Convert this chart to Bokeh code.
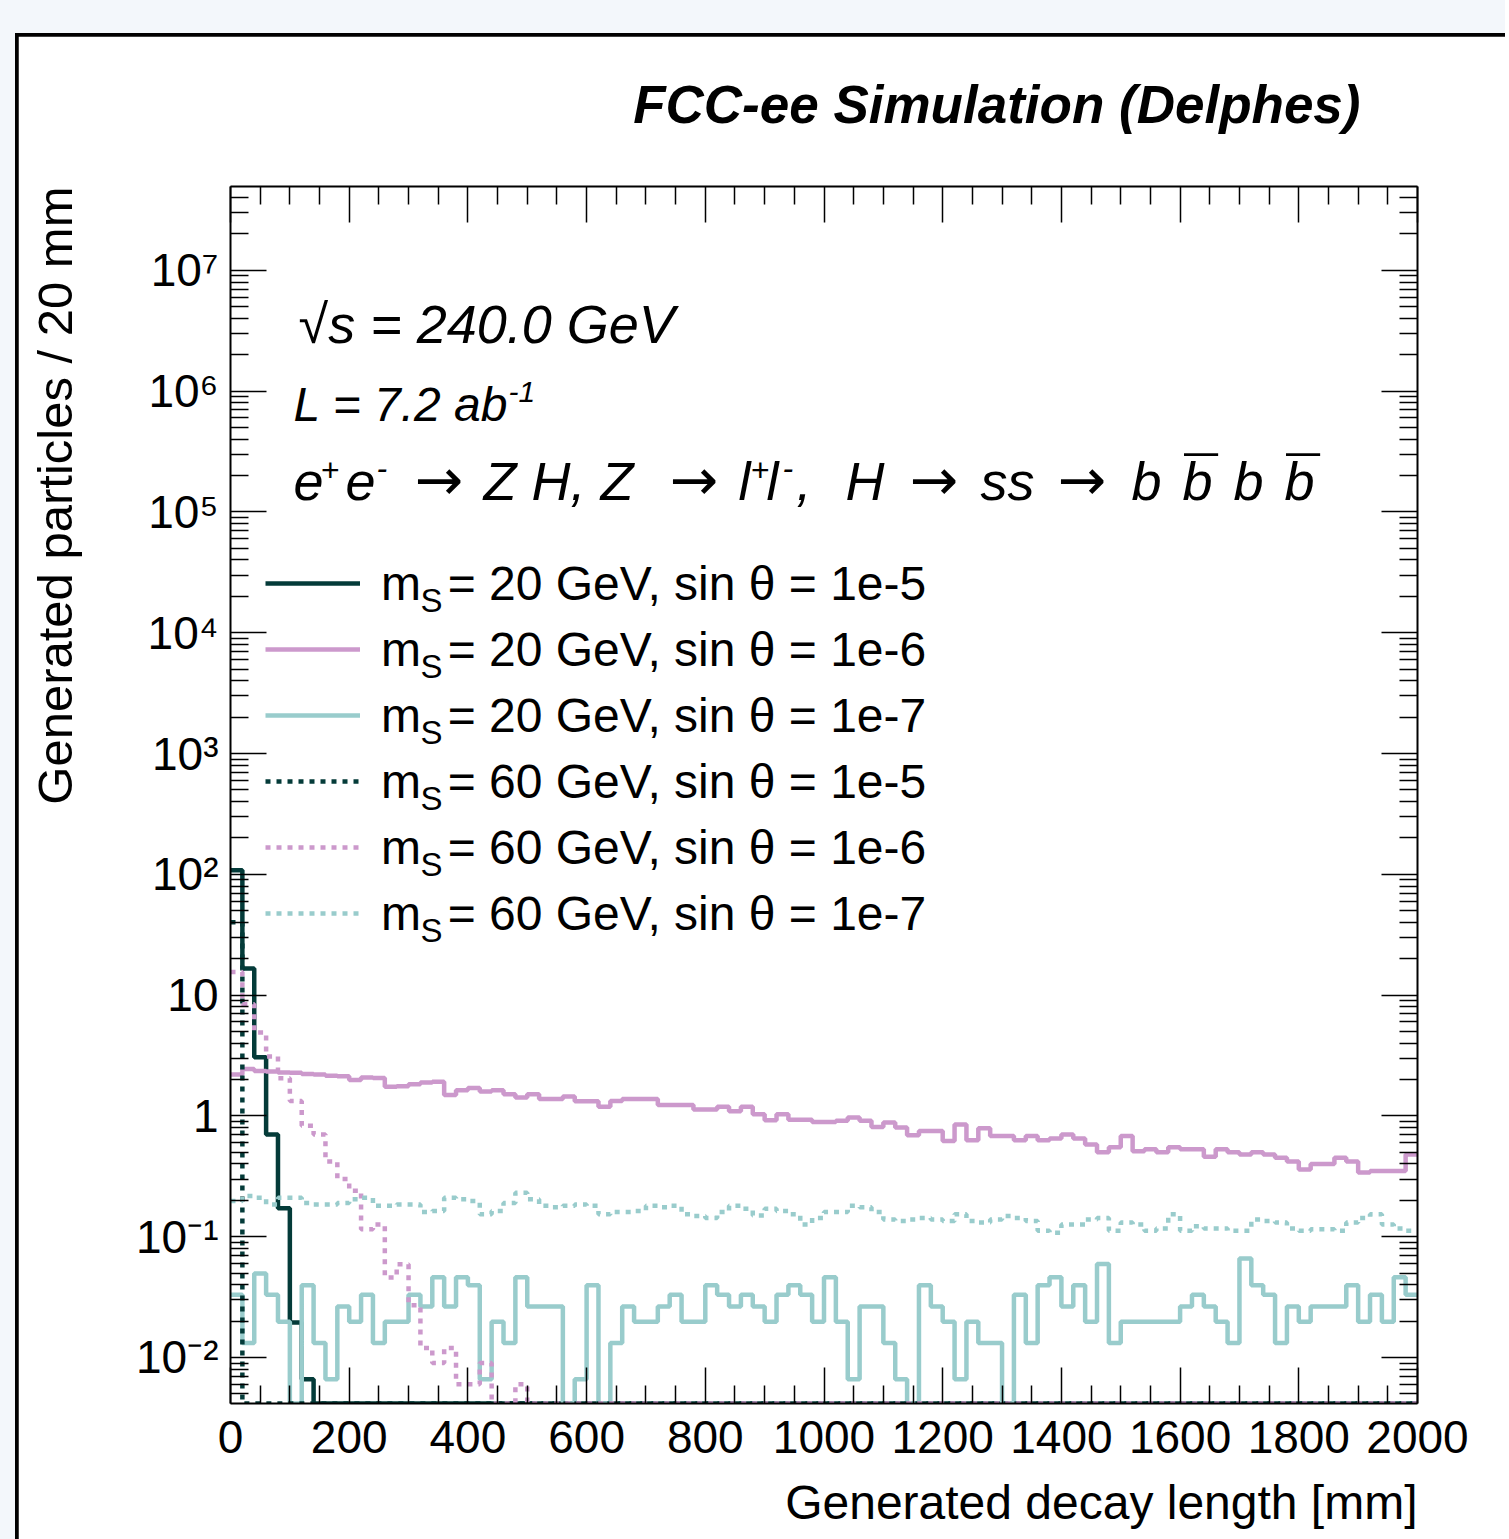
import math
from bokeh.plotting import figure
from bokeh.models import (Label, Legend, LegendItem, LinearAxis, LogAxis, FixedTicker,
                          CustomJSTickFormatter, Range1d, Title)
from bokeh.layouts import column
from bokeh.embed import file_html
from bokeh.resources import INLINE

# ---------------- data ----------------
BIN_WIDTH = 20.0
N_BINS = 100
X_MIN, X_MAX = 0.0, 2000.0
Y_MIN, Y_MAX = 10 ** -2.381, 10 ** 7.694

series_labels = [
    "m\u00a0\u00a0= 20 GeV, sin \u03b8 = 1e-5",
    "m\u00a0\u00a0= 20 GeV, sin \u03b8 = 1e-6",
    "m\u00a0\u00a0= 20 GeV, sin \u03b8 = 1e-7",
    "m\u00a0\u00a0= 60 GeV, sin \u03b8 = 1e-5",
    "m\u00a0\u00a0= 60 GeV, sin \u03b8 = 1e-6",
    "m\u00a0\u00a0= 60 GeV, sin \u03b8 = 1e-7",
]

m20_s5 = [108, 16.6, 3.06, 0.70, 0.172, 0.0195, 0.0066, 0, 0, 0,
          0, 0, 0, 0, 0, 0, 0, 0, 0, 0,
          0, 0, 0, 0, 0, 0, 0, 0, 0, 0,
          0, 0, 0, 0, 0, 0, 0, 0, 0, 0,
          0, 0, 0, 0, 0, 0, 0, 0, 0, 0,
          0, 0, 0, 0, 0, 0, 0, 0, 0, 0,
          0, 0, 0, 0, 0, 0, 0, 0, 0, 0,
          0, 0, 0, 0, 0, 0, 0, 0, 0, 0,
          0, 0, 0, 0, 0, 0, 0, 0, 0, 0,
          0, 0, 0, 0, 0, 0, 0, 0, 0, 0]

m20_s6 = [2.20, 2.45, 2.35, 2.33, 2.29, 2.28, 2.22, 2.20, 2.15, 2.13,
          1.98, 2.08, 2.06, 1.74, 1.76, 1.83, 1.89, 1.92, 1.49, 1.63,
          1.70, 1.59, 1.63, 1.51, 1.42, 1.51, 1.38, 1.38, 1.45, 1.32,
          1.32, 1.19, 1.33, 1.38, 1.38, 1.38, 1.23, 1.23, 1.23, 1.13,
          1.13, 1.19, 1.09, 1.19, 1.03, 0.92, 1.03, 0.93, 0.93, 0.89,
          0.89, 0.91, 0.97, 0.91, 0.81, 0.88, 0.80, 0.69, 0.75, 0.75,
          0.62, 0.85, 0.63, 0.79, 0.68, 0.68, 0.63, 0.68, 0.63, 0.65,
          0.70, 0.65, 0.58, 0.50, 0.55, 0.68, 0.51, 0.53, 0.50, 0.55,
          0.53, 0.53, 0.46, 0.53, 0.50, 0.48, 0.50, 0.48, 0.45, 0.42,
          0.36, 0.40, 0.40, 0.45, 0.42, 0.34, 0.35, 0.35, 0.35, 0.48]

m20_s7 = [0.033, 0.0132, 0.0495, 0.033, 0.0198, 0, 0.0396, 0.0132, 0.0066, 0.0264,
          0.0198, 0.033, 0.0132, 0.0198, 0.0198, 0.033, 0.0264, 0.0462, 0.0264, 0.0462,
          0.0396, 0.0066, 0.0198, 0.0132, 0.0462, 0.0264, 0.0264, 0.0264, 0, 0.0066,
          0.0396, 0, 0.0132, 0.0264, 0.0198, 0.0198, 0.0264, 0.033, 0.0198, 0.0198,
          0.0396, 0.033, 0.0264, 0.033, 0.0264, 0.0198, 0.033, 0.0396, 0.033, 0.0198,
          0.0462, 0.0198, 0.0066, 0.0264, 0.0264, 0.0132, 0.0066, 0, 0.0396, 0.0264,
          0.0198, 0.0066, 0.0198, 0.0132, 0.0132, 0, 0.033, 0.0132, 0.0396, 0.0462,
          0.0264, 0.0396, 0.0198, 0.0594, 0.0132, 0.0198, 0.0198, 0.0198, 0.0198, 0.0198,
          0.0264, 0.033, 0.0264, 0.0198, 0.0132, 0.066, 0.0396, 0.033, 0.0132, 0.0264,
          0.0198, 0.0264, 0.0264, 0.0264, 0.0396, 0.0198, 0.033, 0.0198, 0.0462, 0.033]

m60_s5 = [40, 0, 0, 0, 0, 0, 0, 0, 0, 0,
          0, 0, 0, 0, 0, 0, 0, 0, 0, 0,
          0, 0, 0, 0, 0, 0, 0, 0, 0, 0,
          0, 0, 0, 0, 0, 0, 0, 0, 0, 0,
          0, 0, 0, 0, 0, 0, 0, 0, 0, 0,
          0, 0, 0, 0, 0, 0, 0, 0, 0, 0,
          0, 0, 0, 0, 0, 0, 0, 0, 0, 0,
          0, 0, 0, 0, 0, 0, 0, 0, 0, 0,
          0, 0, 0, 0, 0, 0, 0, 0, 0, 0,
          0, 0, 0, 0, 0, 0, 0, 0, 0, 0]

m60_s6 = [15.5, 8.4, 4.9, 3.1, 2.05, 1.33, 0.83, 0.70, 0.42, 0.30,
          0.24, 0.115, 0.126, 0.046, 0.059, 0.027, 0.012, 0.009, 0.012, 0.006,
          0.006, 0.009, 0, 0, 0.006, 0, 0, 0, 0, 0,
          0, 0, 0, 0, 0, 0, 0, 0, 0, 0,
          0, 0, 0, 0, 0, 0, 0, 0, 0, 0,
          0, 0, 0, 0, 0, 0, 0, 0, 0, 0,
          0, 0, 0, 0, 0, 0, 0, 0, 0, 0,
          0, 0, 0, 0, 0, 0, 0, 0, 0, 0,
          0, 0, 0, 0, 0, 0, 0, 0, 0, 0,
          0, 0, 0, 0, 0, 0, 0, 0, 0, 0]

m60_s7 = [0.197, 0.217, 0.21, 0.185, 0.21, 0.21, 0.19, 0.185, 0.185, 0.19,
          0.204, 0.21, 0.18, 0.18, 0.185, 0.185, 0.16, 0.163, 0.21, 0.204,
          0.197, 0.153, 0.163, 0.19, 0.231, 0.204, 0.18, 0.175, 0.18, 0.185,
          0.18, 0.153, 0.16, 0.16, 0.163, 0.18, 0.175, 0.18, 0.153, 0.148,
          0.143, 0.16, 0.18, 0.17, 0.15, 0.17, 0.163, 0.153, 0.126, 0.143,
          0.16, 0.16, 0.18, 0.175, 0.16, 0.139, 0.135, 0.139, 0.143, 0.139,
          0.135, 0.153, 0.135, 0.131, 0.139, 0.148, 0.143, 0.135, 0.112, 0.108,
          0.126, 0.126, 0.139, 0.143, 0.112, 0.131, 0.126, 0.112, 0.117, 0.153,
          0.112, 0.122, 0.117, 0.117, 0.112, 0.112, 0.139, 0.135, 0.131, 0.117,
          0.112, 0.115, 0.115, 0.112, 0.131, 0.143, 0.153, 0.126, 0.117, 0.112]

x_major_ticks = [0, 200, 400, 600, 800, 1000, 1200, 1400, 1600, 1800, 2000]
y_major_exponents = [-2, -1, 0, 1, 2, 3, 4, 5, 6, 7]

# ---------------- styling ----------------
FONT = "Liberation Sans"
DARK = "#043b39"
PINK = "#cc99cc"
CYAN = "#99cccc"
BG = "#f3f7fb"

FRAME_W, FRAME_H = 1187, 1217
B_LEFT, B_TOP, B_RIGHT, B_BOTTOM = 212, 150, 88, 136
PAD_LEFT, PAD_TOP, BORDER = 15, 33, 3
FRAME_LEFT_PAGE = PAD_LEFT + BORDER + B_LEFT
FRAME_BOTTOM_PAGE = PAD_TOP + BORDER + B_TOP + FRAME_H

p = figure(frame_width=FRAME_W, frame_height=FRAME_H,
           x_range=Range1d(X_MIN, X_MAX), y_range=Range1d(Y_MIN, Y_MAX),
           y_axis_type="log", output_backend="svg", toolbar_location=None,
           min_border_left=B_LEFT, min_border_right=B_RIGHT,
           min_border_top=B_TOP, min_border_bottom=B_BOTTOM,
           background_fill_color="white", border_fill_color="white")
p.xgrid.visible = False
p.ygrid.visible = False
p.outline_line_color = None

# title (outside the frame, so use the plot title)
p.title.text = "FCC-ee Simulation (Delphes)"
p.title.align = "right"
p.title.offset = 57
p.title.standoff = 2
p.title.text_font = FONT
p.title.text_font_size = "53px"
p.title.text_font_style = "bold italic"
p.title.text_color = "black"

x_minor_ticks = [v for v in range(0, 2001, 50) if v % 200 != 0]
y_major_ticks = [10.0 ** e for e in y_major_exponents]
y_minor_ticks = [k * 10.0 ** e for e in range(-3, 8) for k in range(2, 10)
                 if Y_MIN <= k * 10.0 ** e <= Y_MAX]
xt = FixedTicker(ticks=x_major_ticks, minor_ticks=x_minor_ticks)
yt = FixedTicker(ticks=y_major_ticks, minor_ticks=y_minor_ticks)

yfmt = CustomJSTickFormatter(code="""
const e = Math.round(Math.log10(tick));
if (e === 0) return "1";
if (e === 1) return "10";
const sup = {"-": "\u207b", "0": "\u2070", "1": "\u00b9", "2": "\u00b2", "3": "\u00b3",
             "4": "\u2074", "5": "\u2075", "6": "\u2076", "7": "\u2077", "8": "\u2078", "9": "\u2079"};
return "10" + String(e).split("").map(c => sup[c]).join("");
""")


def style_axis(ax, show_labels):
    ax.axis_line_color = "black"
    ax.axis_line_width = 2
    ax.major_tick_in = 36
    ax.major_tick_out = 0
    ax.minor_tick_in = 18
    ax.minor_tick_out = 0
    ax.major_tick_line_color = "black"
    ax.major_tick_line_width = 1.5
    ax.minor_tick_line_color = "black"
    ax.minor_tick_line_width = 1.5
    if show_labels:
        ax.major_label_text_font = FONT
        ax.major_label_text_font_size = "46px"
        ax.major_label_text_color = "black"
    else:
        ax.major_label_text_color = None
        ax.major_label_standoff = 0


def spacer(ax, gap):
    # blank axis label used only to push the outer title panel away from the axis
    ax.axis_label = "\u00a0"
    ax.axis_label_text_font_size = "2px"
    ax.axis_label_standoff = gap


xa = p.xaxis[0]
xa.ticker = xt
style_axis(xa, True)
xa.major_label_standoff = 17
spacer(xa, 12)

ya = p.yaxis[0]
ya.ticker = yt
ya.formatter = yfmt
style_axis(ya, True)
ya.major_label_standoff = 12
spacer(ya, 44)

top_ax = LinearAxis(ticker=xt)
style_axis(top_ax, False)
spacer(top_ax, 47)
p.add_layout(top_ax, "above")
right_ax = LogAxis(ticker=yt)
style_axis(right_ax, False)
p.add_layout(right_ax, "right")

# axis titles, right aligned to the frame end (ROOT style)
p.add_layout(Title(text="Generated decay length [mm]", align="right", offset=0, standoff=2,
                   text_font=FONT, text_font_size="48px", text_font_style="normal",
                   text_color="black"), "below")
p.add_layout(Title(text="Generated particles / 20 mm", align="right", offset=0, standoff=4,
                   text_font=FONT, text_font_size="49px", text_font_style="normal",
                   text_color="black"), "left")

# ---------------- histograms ----------------
edges = [X_MIN + i * BIN_WIDTH for i in range(N_BINS + 1)]


def step_y(vals):
    ys = [max(v, Y_MIN) for v in vals]
    return ys + [ys[-1]]


LW = 4.5
DOT = "5 6"
specs = [
    (m20_s5, DARK, "solid"),
    (m20_s6, PINK, "solid"),
    (m20_s7, CYAN, "solid"),
    (m60_s5, DARK, DOT),
    (m60_s6, PINK, DOT),
    (m60_s7, CYAN, DOT),
]
renderers = []
for vals, col, dash in specs:
    r = p.step(x=edges, y=step_y(vals), mode="after", line_color=col,
               line_width=LW, line_dash=dash)
    renderers.append(r)

ROW_H, ROW_GAP = 60, 6
legend = Legend(items=[LegendItem(label=lab, renderers=[r]) for lab, r in zip(series_labels, renderers)],
                location=(265 - FRAME_LEFT_PAGE, FRAME_BOTTOM_PAGE - 943),
                orientation="vertical", glyph_width=95, glyph_height=ROW_H,
                label_height=ROW_H, label_standoff=21, spacing=ROW_GAP,
                padding=0, margin=0, border_line_color=None,
                background_fill_alpha=0, label_text_font=FONT,
                label_text_font_size="48px", label_text_color="black")
p.add_layout(legend)


# ---------------- texts inside the frame ----------------
BASELINE_FIX = 0.39  # renderer places the alphabetic baseline this many ems lower


def add_text(text, x_page, baseline_page, size, style="normal", font=FONT):
    y_page = baseline_page - BASELINE_FIX * size
    p.add_layout(Label(x=x_page - FRAME_LEFT_PAGE, y=FRAME_BOTTOM_PAGE - y_page,
                       x_units="screen", y_units="screen", text=text,
                       text_font=font, text_font_size=f"{size}px",
                       text_font_style=style, text_align="left",
                       text_baseline="alphabetic", text_color="black"))


add_text("\u221as = 240.0 GeV", 298, 345, 54, style="italic")
add_text("L = 7.2 ab", 293, 423, 48, style="italic")
add_text("-1", 508, 403, 30, style="italic")

PROC_Y = 502
proc_pieces = [
    ("e", 293, 0, 54), ("+", 320, 20, 32), ("e", 345, 0, 54), ("-", 376, 22, 32),
    ("Z H, Z", 483, 0, 54),
    ("l", 738, 0, 54), ("+", 750, 20, 32), ("l", 766, 0, 54), ("-", 782, 22, 32),
    (",", 796, 0, 54),
    ("H", 845, 0, 54), ("ss", 980, 0, 54),
    ("b", 1131, 0, 54), ("b", 1182, 0, 54), ("b", 1233, 0, 54), ("b", 1284, 0, 54),
]
for txt, xp, rise, size in proc_pieces:
    add_text(txt, xp, PROC_Y - rise, size, style="italic")
for xp in (414, 669, 909, 1057):
    add_text("\u2192", xp, PROC_Y, 58, font="DejaVu Sans")
for xp in (1184, 1286):
    add_text("\u00af", xp, 500, 60)

for i in range(len(series_labels)):
    add_text("S", 420, 613 + i * (ROW_H + ROW_GAP), 33)

inner = column(p, styles={"background-color": "black", "padding": f"{BORDER}px 0px 0px {BORDER}px"})
root = column(inner, styles={"background-color": BG, "padding": f"{PAD_TOP}px 0px 0px {PAD_LEFT}px"})

open("out.html", "w").write(file_html(root, INLINE))
